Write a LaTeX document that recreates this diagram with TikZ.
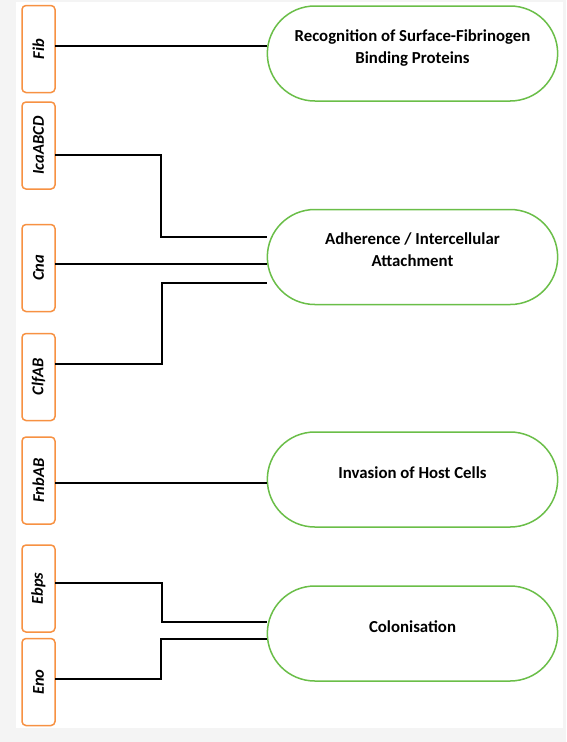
\documentclass[tikz,border=0pt]{standalone}
\usepackage{fontspec}
\setmainfont{Carlito}
\usepackage{tikz}
\usetikzlibrary{shapes.misc,positioning}
\definecolor{geneorange}{RGB}{247,145,66}
\definecolor{rolegreen}{RGB}{106,190,72}
\definecolor{pagegrey}{RGB}{244,244,244}
\tikzset{gene node/.style={rectangle, draw=geneorange, line width=1.5pt,
    rounded corners=4pt, fill=white, rotate=90, outer sep=0pt,
    minimum width=87pt, minimum height=33pt,
    font=\fontsize{16.5}{20}\selectfont\bfseries\itshape}}
\tikzset{role node/.style={rounded rectangle, draw=rolegreen, line width=1.5pt,
    fill=white, align=center, outer sep=0pt,
    minimum width=297pt, minimum height=95pt, text depth=14pt,
    font=\fontsize{16.8}{22}\selectfont\bfseries}}
\tikzset{link edge/.style={draw=black, line width=2.2pt}}

\begin{document}
\begin{tikzpicture}
  [x=1pt, y=-1pt]
  \fill [pagegrey] (0,0) rectangle (566,742);
  \fill [white]    (16,2) rectangle (563,728);
  \useasboundingbox (0,0) rectangle (566,742);

  % genes
  \node [gene node] (fib)  at (38.5,  49.0) {Fib};
  \node [gene node] (ica)  at (38.5, 145.5) {IcaABCD};
  \node [gene node] (cna)  at (38.5, 268.0) {Cna};
  \node [gene node] (clf)  at (38.5, 377.0) {ClfAB};
  \node [gene node] (fnb)  at (38.5, 480.5) {FnbAB};
  \node [gene node] (ebps) at (38.5, 588.5) {Ebps};
  \node [gene node] (eno)  at (38.5, 682.0) {Eno};

  % roles
  \node [role node] (recog)  at (412.5,  53.5) {Recognition of Surface-Fibrinogen\\Binding Proteins};
  \node [role node] (adhere) at (412.5, 257.0) {Adherence / Intercellular\\Attachment};
  \node [role node] (invade) at (412.5, 479.5) {Invasion of Host Cells};
  \node [role node] (colon)  at (412.5, 633.5) {Colonisation};

  \draw [link edge] (fib.south |- 0,46)  -- (recog.west |- 0,46);
  \draw [link edge] (ica.south |- 0,155) -| (161,237) -- (adhere.west |- 0,237);
  \draw [link edge] (cna.south |- 0,264) -- (adhere.west |- 0,264);
  \draw [link edge] (clf.south |- 0,364) -| (162,283) -- (adhere.west |- 0,283);
  \draw [link edge] (fnb.south |- 0,483) -- (invade.west |- 0,483);
  \draw [link edge] (ebps.south |- 0,583) -| (162,622) -- (colon.west |- 0,622);
  \draw [link edge] (eno.south |- 0,679)  -| (161,639) -- (colon.west |- 0,639);
\end{tikzpicture}
\end{document}
